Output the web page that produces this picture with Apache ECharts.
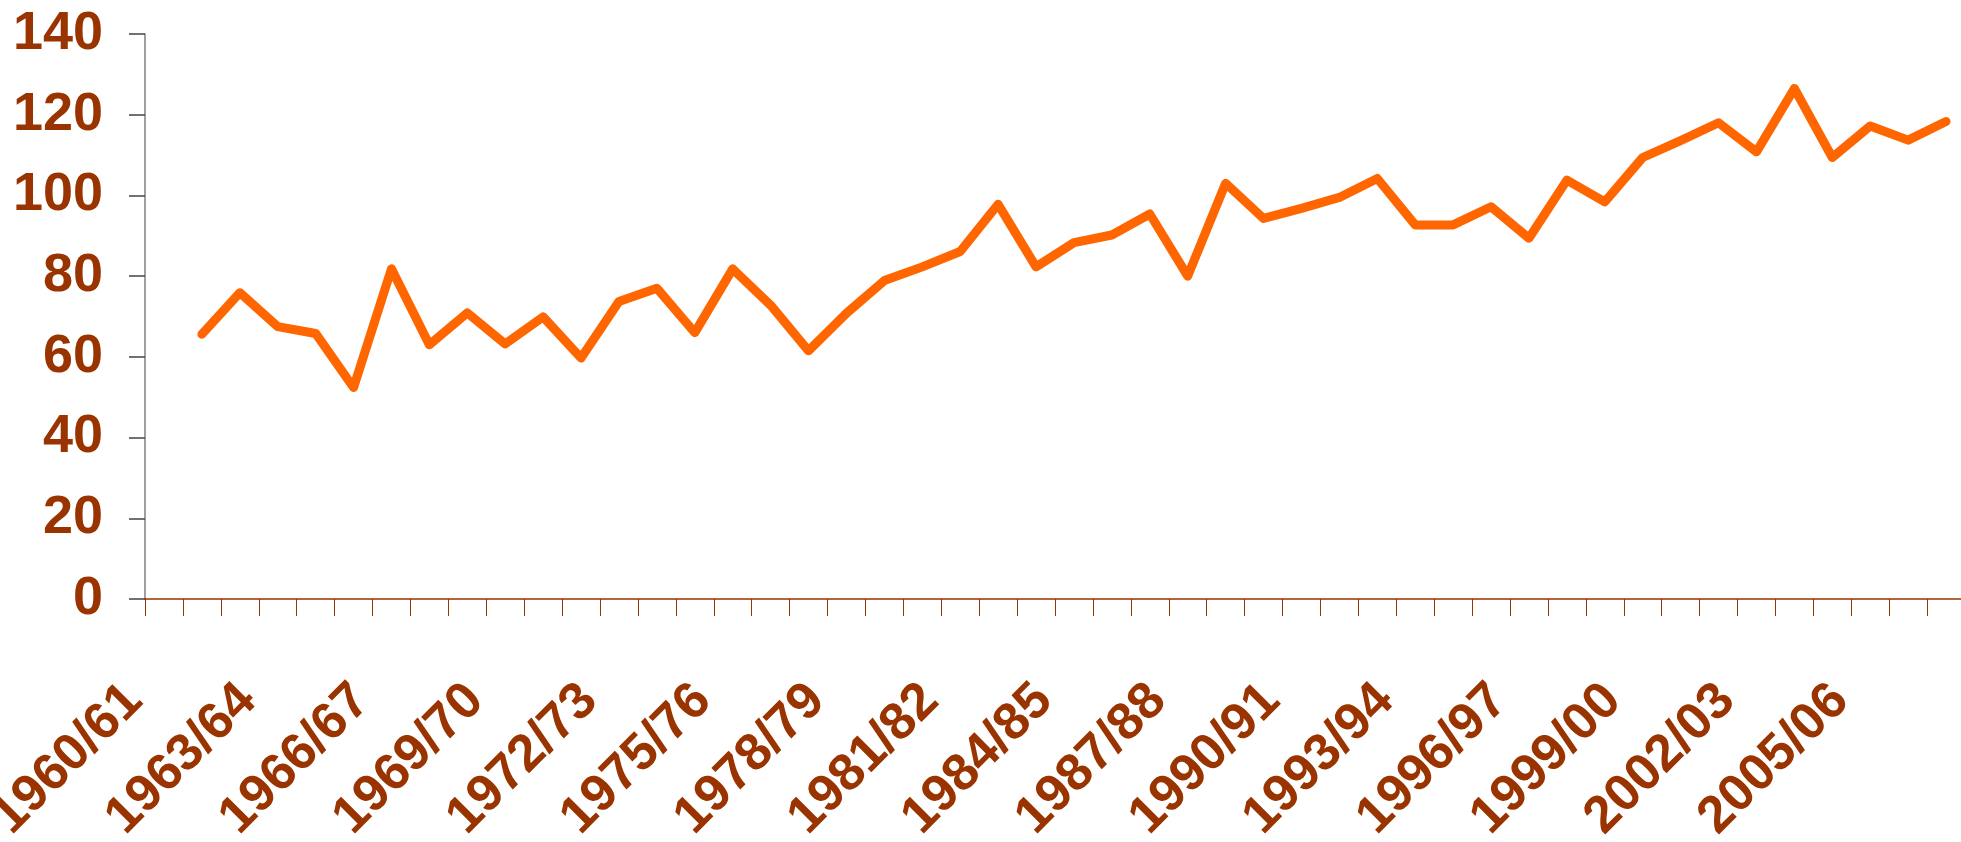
<!DOCTYPE html>
<html>
<head>
<meta charset="utf-8">
<style>
  html, body { margin: 0; padding: 0; background: #fff; }
  #chart { width: 1961px; height: 842px; }
</style>
<script src="https://cdn.jsdelivr.net/npm/echarts@6/dist/echarts.min.js"></script>
</head>
<body>
<div id="chart"></div>
<script>
// crop years, first season has no value
const seasons = [
  '1960/61', '1961/62', '1962/63', '1963/64', '1964/65', '1965/66', '1966/67', '1967/68',
  '1968/69', '1969/70', '1970/71', '1971/72', '1972/73', '1973/74', '1974/75', '1975/76',
  '1976/77', '1977/78', '1978/79', '1979/80', '1980/81', '1981/82', '1982/83', '1983/84',
  '1984/85', '1985/86', '1986/87', '1987/88', '1988/89', '1989/90', '1990/91', '1991/92',
  '1992/93', '1993/94', '1994/95', '1995/96', '1996/97', '1997/98', '1998/99', '1999/00',
  '2000/01', '2001/02', '2002/03', '2003/04', '2004/05', '2005/06', '2006/07', '2007/08'
]
const values = [
  null, 65.6, 75.9, 67.5, 65.8, 52.4, 81.8, 63.0,
  70.9, 63.2, 69.9, 59.7, 73.7, 77.0, 66.0, 81.8,
  72.8, 61.5, 70.8, 78.9, 82.3, 86.1, 97.8, 82.3,
  88.3, 90.2, 95.4, 80.0, 103.0, 94.3, 96.8, 99.5,
  104.2, 92.7, 92.7, 97.2, 89.4, 103.8, 98.4, 109.4,
  113.6, 118.0, 110.8, 126.5, 109.4, 117.2, 113.7, 118.3
]
const yMin = 0
const yMax = 140
const yStep = 20

const brown = '#993300'
const font = '"Liberation Sans", Arial, sans-serif'

const chart = echarts.init(document.getElementById('chart'))

const option = {
  animation: false,
  backgroundColor: '#ffffff',
  grid: {
    left: 145,
    top: 34,
    right: -4,
    bottom: 243,
    containLabel: false,
    outerBoundsMode: 'none'
  },
  xAxis: {
    type: 'category',
    data: seasons,
    boundaryGap: true,
    axisLine: {
      show: true,
      lineStyle: { color: brown, width: 1.5 }
    },
    axisTick: {
      show: true,
      interval: 0,
      length: 17,
      lineStyle: { color: brown, width: 1 }
    },
    axisLabel: {
      interval: 2,
      rotate: 45,
      margin: 64,
      padding: [0, 42, 0, 0],
      color: brown,
      fontFamily: font,
      fontWeight: 'bold',
      fontSize: 52
    },
    splitLine: { show: false }
  },
  yAxis: {
    type: 'value',
    min: yMin,
    max: yMax,
    interval: yStep,
    axisLine: {
      show: true,
      lineStyle: { color: '#808080', width: 1.5 }
    },
    axisTick: {
      show: true,
      inside: false,
      length: 16,
      lineStyle: { color: '#444444', width: 1.5 }
    },
    axisLabel: {
      margin: 42,
      color: brown,
      fontFamily: font,
      fontWeight: 'bold',
      fontSize: 54
    },
    splitLine: { show: false }
  },
  series: [
    {
      type: 'line',
      data: values,
      showSymbol: false,
      connectNulls: false,
      lineStyle: {
        color: '#FF6600',
        width: 9,
        cap: 'round',
        join: 'round'
      },
      itemStyle: { color: '#FF6600' }
    }
  ]
}

chart.setOption(option)
</script>
</body>
</html>
